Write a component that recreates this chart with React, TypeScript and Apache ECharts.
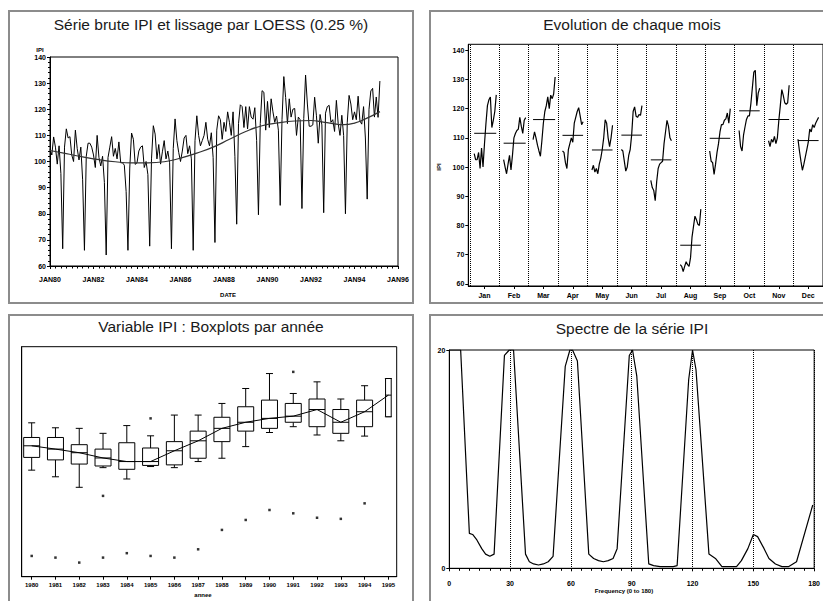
import React, { useEffect, useRef } from "react";
import * as echarts from "echarts";

// ---- data ----------------------------------------------------------------
const firstYear = 1980;
const monthNames = ["Jan", "Feb", "Mar", "Apr", "May", "Jun", "Jul", "Aug", "Sep", "Oct", "Nov", "Dec"];

// IPI by calendar month, one value per year starting 1980 (Jan-Mar run into 1995)
const ipiJan = [104.6, 102.5, 102.5, 105, 99.5, 106.5, 100, 108, 115, 121, 123, 124, 113.5, 116, 119, 124.7];
const ipiFeb = [102.5, 100, 97.7, 101, 104, 99, 104, 110, 111.5, 112.5, 113, 117, 114, 111.5, 116, 116.9];
const ipiMar = [109.4, 112, 110, 107.5, 105.5, 103.7, 109, 115, 119, 121, 124, 120, 124.6, 123.4, 125, 130.8];
const ipiApr = [105.5, 105, 101.5, 99.5, 106, 108, 110, 108.5, 115, 117, 119, 120.3, 117.5, 114.5, 115.5];
const ipiMay = [99, 100.6, 98.3, 99.5, 97.7, 101, 103, 106, 110, 116.2, 115, 110, 107, 110, 114.3];
const ipiJun = [106, 105.5, 102, 98.6, 100, 104, 106, 111, 119, 120.6, 117.4, 117, 118, 117.7, 121];
const ipiJul = [95.4, 93, 92, 88.5, 95, 99.5, 101, 101.5, 102, 108, 112, 116, 114, 110, 109];
const ipiAug = [66.6, 66, 64.2, 66, 67.6, 66.6, 66, 69, 76, 79.6, 83.2, 82, 80.4, 80, 85.6];
const ipiSep = [105.5, 102, 101.5, 97.5, 101, 105, 108, 112, 114.5, 114.5, 116, 116.5, 118.5, 115, 120];
const ipiOct = [112.5, 107, 105.5, 110.9, 113.7, 116.3, 117.5, 117.5, 121.7, 127.1, 132.5, 133.1, 121, 125.3, 127];
const ipiNov = [109, 107, 109.5, 108.5, 110.5, 108, 110, 116, 121, 126.5, 124.5, 122, 121.5, 122, 128];
const ipiDec = [109.5, 105.5, 102, 98.9, 101, 103.5, 106, 108.5, 113, 112, 114.5, 113.5, 115, 116, 117];
const ipiByMonth = [ipiJan, ipiFeb, ipiMar, ipiApr, ipiMay, ipiJun, ipiJul, ipiAug, ipiSep, ipiOct, ipiNov, ipiDec];

// LOESS smooth (span 0.25)
const loessDates = [1980.0, 1980.75, 1981.5, 1982.25, 1983.0, 1983.75, 1984.5, 1985.25, 1986.0, 1986.75, 1987.5, 1988.25, 1989.0, 1989.75, 1990.5, 1991.25, 1992.0, 1992.5, 1993.0, 1993.5, 1994.0, 1994.5, 1995.17];
const loessValues = [104.2, 103.0, 101.8, 100.7, 99.9, 99.5, 99.5, 99.9, 101.3, 103.2, 105.5, 108.5, 111.5, 113.7, 114.8, 115.5, 115.7, 115.2, 114.5, 114.1, 114.7, 116.3, 119.1];

// yearly boxplot statistics, 1980..1995
const boxYears = [1980, 1981, 1982, 1983, 1984, 1985, 1986, 1987, 1988, 1989, 1990, 1991, 1992, 1993, 1994, 1995];
const boxCount = [12, 12, 12, 12, 12, 12, 12, 12, 12, 12, 12, 12, 12, 12, 12, 3];
const boxMin = [97.6, 95.2, 91.4, 98.5, 94.4, 98.9, 98.5, 100.7, 101.9, 106.1, 111.2, 113.3, 110.3, 108.2, 109.9, 116.9];
const boxQ1 = [102.2, 101.3, 99.8, 99.1, 97.9, 99.3, 99.5, 101.9, 107.9, 111.7, 112.7, 114.9, 113.3, 110.9, 113.3, 116.9];
const boxMed = [106.4, 105.2, 103.9, 102.0, 100.7, 100.7, 104.6, 108.2, 112.7, 114.9, 116.3, 117.1, 119.5, 114.9, 118.7, 124.7];
const boxQ3 = [109.4, 109.4, 106.8, 105.2, 107.5, 105.6, 107.9, 111.7, 116.7, 120.5, 122.9, 121.7, 123.3, 119.5, 122.9, 130.7];
const boxMax = [114.7, 112.9, 112.7, 110.9, 113.7, 110.0, 117.5, 117.5, 121.7, 127.1, 132.5, 125.3, 129.5, 123.3, 128.1, 130.7];
const outlierYears = [1980, 1981, 1982, 1983, 1984, 1985, 1986, 1987, 1988, 1989, 1990, 1991, 1992, 1993, 1994, 1983, 1985, 1991];
const outlierValues = [66.6, 66.0, 64.2, 66.0, 67.6, 66.6, 66.0, 69.0, 76.0, 79.6, 83.2, 82.0, 80.4, 80.0, 85.6, 88.3, 116.3, 133.1];

// periodogram of the series
const specFreq = [0, 5.6, 9.9, 11.5, 13.6, 16, 17.9, 20, 22.1, 27.2, 29.6, 31.7, 37.6, 39.5, 41.6, 44, 46.4, 48.8, 51.2, 57.2, 59.5, 60.8, 63.2, 68.8, 71.2, 73.6, 76, 78.4, 80.8, 82.8, 88.8, 90.4, 92.5, 98.4, 100.8, 104, 107.3, 110.5, 112.4, 118.1, 120, 121.7, 128.1, 131.3, 134.5, 137.7, 141.7, 144.1, 147.3, 150, 152.1, 155.3, 157.7, 160.9, 164.1, 167.3, 171.3, 179.3];
const specPower = [20, 20, 3.2, 3.1, 2.6, 1.8, 1.3, 1.1, 1.3, 19.5, 20, 20, 1.3, 0.6, 0.4, 0.3, 0.4, 0.6, 1.1, 18.5, 20, 20, 19, 1.3, 0.9, 0.7, 0.6, 0.7, 0.9, 1.8, 19.5, 20, 17.6, 0.4, 0.25, 0.15, 0.15, 0.15, 0.25, 17.3, 20, 18.2, 1.3, 0.9, 0.15, 0.15, 0.15, 0.7, 1.8, 3.1, 2.9, 1.8, 0.9, 0.4, 0.15, 0.15, 0.6, 5.8];

// ---- styling helpers ------------------------------------------------------
const FONT = '"Liberation Sans", Arial, sans-serif';
const tickFont = { fontSize: 7, fontWeight: "bold" as const, color: "#000", fontFamily: FONT };
const black = "#000";

function axisBase() {
  return {
    axisLine: { show: true, onZero: false, lineStyle: { color: black, width: 1 } },
    axisTick: { show: true, inside: false, length: 3, lineStyle: { color: black } },
    splitLine: { show: false },
  };
}

export default function App() {
  const ref = useRef<HTMLDivElement>(null);

  useEffect(() => {
    if (!ref.current) return;
    const chart = echarts.init(ref.current, null, { renderer: "svg" });

    // chronological series from the per-month tables
    const ipiSeries: [number, number][] = [];
    for (let y = 0; y < 16; y++) {
      for (let m = 0; m < 12; m++) {
        const v = ipiByMonth[m][y];
        if (v !== undefined) ipiSeries.push([firstYear + y + m / 12, v]);
      }
    }

    const series: any[] = [];

    // panel 1: raw series + LOESS
    series.push({
      type: "line", xAxisIndex: 0, yAxisIndex: 0, symbol: "none",
      data: ipiSeries, lineStyle: { color: black, width: 1 },
    });
    series.push({
      type: "line", xAxisIndex: 0, yAxisIndex: 0, symbol: "none", smooth: true,
      data: loessDates.map((d, i) => [d, loessValues[i]]),
      lineStyle: { color: "#333", width: 1.2 },
    });

    // panel 2: each month across the years, with its mean
    const colWidth = 20;
    ipiByMonth.forEach((vals, m) => {
      const x0 = m * colWidth + 3;
      const mean = vals.reduce((a, b) => a + b, 0) / vals.length;
      series.push({
        type: "line", xAxisIndex: 1, yAxisIndex: 1, symbol: "none",
        data: vals.map((v, i) => [x0 + i, v]),
        lineStyle: { color: black, width: 1.2 },
        markLine: m === 0 ? {
          silent: true, symbol: ["none", "none"], label: { show: false },
          lineStyle: { type: "dotted", color: black, width: 1 },
          data: Array.from({ length: 13 }, (_, k) => ({ xAxis: k * colWidth })),
        } : undefined,
      });
      series.push({
        type: "line", xAxisIndex: 1, yAxisIndex: 1, symbol: "none",
        data: [[x0, mean], [x0 + vals.length - 1, mean]],
        lineStyle: { color: black, width: 1 },
      });
    });

    // panel 3: boxplots by year
    series.push({
      type: "custom", xAxisIndex: 2, yAxisIndex: 2,
      encode: { x: 0, y: [1, 5] },
      data: boxYears.map((_, i) => [i, boxMin[i], boxQ1[i], boxMed[i], boxQ3[i], boxMax[i], boxCount[i]]),
      renderItem: (_params: any, api: any) => {
        const i = api.value(0);
        const lo = api.coord([i, api.value(1)]);
        const q1 = api.coord([i, api.value(2)]);
        const md = api.coord([i, api.value(3)]);
        const q3 = api.coord([i, api.value(4)]);
        const hi = api.coord([i, api.value(5)]);
        const n = api.value(6);
        const half = 8 * Math.pow(n / 12, 0.75);
        const cap = 3.5;
        const x = lo[0];
        const st = { stroke: black, lineWidth: 1 };
        return {
          type: "group",
          children: [
            { type: "line", shape: { x1: x, y1: hi[1], x2: x, y2: q3[1] }, style: st },
            { type: "line", shape: { x1: x, y1: q1[1], x2: x, y2: lo[1] }, style: st },
            { type: "line", shape: { x1: x - cap, y1: hi[1], x2: x + cap, y2: hi[1] }, style: st },
            { type: "line", shape: { x1: x - cap, y1: lo[1], x2: x + cap, y2: lo[1] }, style: st },
            { type: "rect", shape: { x: x - half, y: q3[1], width: 2 * half, height: q1[1] - q3[1] }, style: { fill: "#fff", stroke: black, lineWidth: 1 } },
            { type: "line", shape: { x1: x - half, y1: md[1], x2: x + half, y2: md[1] }, style: st },
          ],
        };
      },
    });
    series.push({
      type: "line", xAxisIndex: 2, yAxisIndex: 2, symbol: "none",
      data: boxMed.map((v, i) => [i, v]), lineStyle: { color: black, width: 1 }, z: 3,
    });
    series.push({
      type: "scatter", xAxisIndex: 2, yAxisIndex: 2, symbol: "rect", symbolSize: 2.5,
      itemStyle: { color: black },
      data: outlierYears.map((y, i) => [y - firstYear, outlierValues[i]]),
    });

    // panel 4: spectrum
    series.push({
      type: "line", xAxisIndex: 3, yAxisIndex: 3, symbol: "none",
      data: specFreq.map((f, i) => [f, specPower[i]]), lineStyle: { color: black, width: 1.2 },
    });

    const panel = (x: number, y: number) => ({
      type: "rect", shape: { x, y, width: 404, height: 292 },
      style: { fill: "none", stroke: "#8c8c8c", lineWidth: 2 }, silent: true,
    });
    const title = (text: string, x: number, y: number) => ({
      type: "text", x, y,
      style: { text, font: `15.5px ${FONT}`, fill: "#1a1a1a", textAlign: "center", textVerticalAlign: "middle" },
    });
    const small = (text: string, x: number, y: number, extra: any = {}) => ({
      type: "text", x, y, ...extra,
      style: { text, font: `bold 6px ${FONT}`, fill: black, textAlign: "center", textVerticalAlign: "middle" },
    });

    const gridStyle = { show: true, borderColor: black, borderWidth: 1, backgroundColor: "transparent" };

    chart.setOption({
      animation: false,
      backgroundColor: "#fff",
      grid: [
        { left: 50, top: 57, width: 348, height: 209, ...gridStyle },
        { left: 468.3, top: 44.3, width: 360.3, height: 241.7, ...gridStyle },
        { left: 21.7, top: 346.7, width: 375, height: 230, ...gridStyle },
        { left: 449.3, top: 350, width: 375.7, height: 218.3, ...gridStyle },
      ],
      xAxis: [
        {
          gridIndex: 0, type: "value", min: 1980, max: 1996, interval: 2, ...axisBase(),
          minorTick: { show: true, splitNumber: 8, length: 2.5, lineStyle: { color: black } },
          axisLabel: { ...tickFont, margin: 10, formatter: (v: number) => "JAN" + String(v).slice(2) },
        },
        {
          gridIndex: 1, type: "value", min: -1, max: 240, ...axisBase(),
          axisTick: { show: true, length: 3, lineStyle: { color: black }, customValues: monthNames.map((_, m) => m * colWidth + 10) },
          axisLabel: {
            ...tickFont, margin: 6, customValues: monthNames.map((_, m) => m * colWidth + 10),
            formatter: (v: number) => monthNames[Math.round((v - 10) / colWidth)] ?? "",
          },
        },
        {
          gridIndex: 2, type: "value", min: -0.42, max: 15.35, ...axisBase(),
          axisTick: { show: true, length: 3, lineStyle: { color: black }, customValues: boxYears.map((_, i) => i) },
          axisLabel: { ...tickFont, fontSize: 6, margin: 5, customValues: boxYears.map((_, i) => i), formatter: (v: number) => String(firstYear + v) },
        },
        {
          gridIndex: 3, type: "value", min: 0, max: 180, interval: 30, ...axisBase(),
          minorTick: { show: true, splitNumber: 6, length: 2.5, lineStyle: { color: black } },
          splitLine: { show: true, lineStyle: { type: "dotted", color: black, width: 1 } },
          axisLabel: { ...tickFont, margin: 12 },
        },
      ],
      yAxis: [
        {
          gridIndex: 0, type: "value", min: 60, max: 140, interval: 10, ...axisBase(),
          minorTick: { show: true, splitNumber: 5, length: 2, lineStyle: { color: black } },
          axisLabel: { ...tickFont, margin: 4 },
        },
        {
          gridIndex: 1, type: "value", min: 59.3, max: 142, ...axisBase(),
          axisTick: { show: true, length: 3, lineStyle: { color: black }, customValues: [60, 70, 80, 90, 100, 110, 120, 130, 140] },
          axisLabel: { ...tickFont, margin: 4, customValues: [60, 70, 80, 90, 100, 110, 120, 130, 140] },
        },
        {
          gridIndex: 2, type: "value", min: 59.1, max: 142.2, ...axisBase(),
          axisTick: { show: false }, axisLabel: { show: false },
        },
        {
          gridIndex: 3, type: "value", min: 0, max: 20, interval: 20, ...axisBase(),
          axisLabel: { ...tickFont, margin: 4 },
        },
      ],
      series,
      graphic: [
        panel(9, 11), panel(430, 11), panel(9, 315), panel(430, 315),
        title("Série brute IPI et lissage par LOESS (0.25 %)", 211, 24),
        title("Evolution de chaque mois", 632, 24),
        title("Variable IPI : Boxplots par année", 211, 326),
        title("Spectre de la série IPI", 632, 328),
        small("IPI", 40, 50),
        small("DATE", 228, 295),
        small("IPI", 439, 167, { rotation: Math.PI / 2 }),
        small("annee", 203, 595),
        small("Frequency (0 to 180)", 624, 591),
      ],
    });

    return () => chart.dispose();
  }, []);

  return (
    <div
      ref={ref}
      style={{ position: "fixed", left: 0, top: 0, width: 823, height: 601, background: "#fff" }}
    />
  );
}
